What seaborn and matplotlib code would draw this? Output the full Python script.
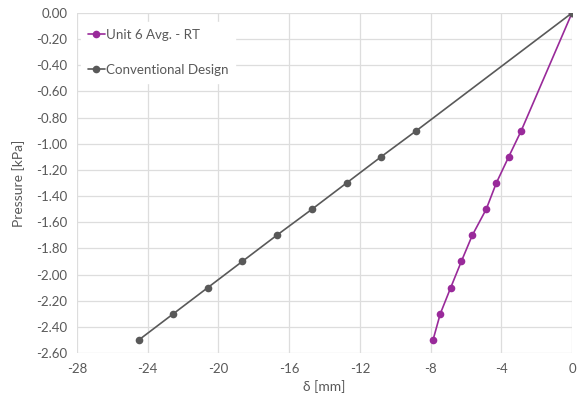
import numpy as np
import pandas as pd
import matplotlib
matplotlib.use("Agg")
import matplotlib.pyplot as plt
import seaborn as sns

# Pressure steps [kPa]
pressure = [0.0, -0.9, -1.1, -1.3, -1.5, -1.7, -1.9, -2.1, -2.3, -2.5]
# Deflection [mm] per series
unit6_defl = [0.0, -2.87, -3.58, -4.28, -4.85, -5.64, -6.26, -6.86, -7.45, -7.86]
conv_defl = [0.0, -8.8, -10.8, -12.75, -14.7, -16.7, -18.65, -20.6, -22.55, -24.5]

series_names = ["Unit 6 Avg. - RT", "Conventional Design"]
colors = ["#992A9A", "#595959"]

x_ticks = [-28, -24, -20, -16, -12, -8, -4, 0]
y_ticks = [0.0, -0.2, -0.4, -0.6, -0.8, -1.0, -1.2, -1.4, -1.6, -1.8, -2.0, -2.2, -2.4, -2.6]

df = pd.concat([
    pd.DataFrame({"delta": unit6_defl, "pressure": pressure, "series": series_names[0]}),
    pd.DataFrame({"delta": conv_defl, "pressure": pressure, "series": series_names[1]}),
])

sns.set_theme(style="white")
plt.rcParams["font.family"] = ["Lato", "DejaVu Sans"]

fig = plt.figure(figsize=(5.81, 4.01), dpi=100)
ax = fig.add_axes([0.1325, 0.1197, 0.852, 0.848])

sns.lineplot(data=df, x="delta", y="pressure", hue="series", hue_order=series_names,
             palette=colors, marker="o", markersize=5.5, markeredgewidth=0,
             linewidth=1.2, sort=False, estimator=None, ax=ax, zorder=3)

ax.set_xlim(-28, 0)
ax.set_ylim(-2.6, 0)
ax.set_xticks(x_ticks)
ax.set_xticklabels([str(t) for t in x_ticks])
ax.set_yticks(y_ticks)
ax.set_yticklabels([f"{t:.2f}" for t in y_ticks])
ax.grid(True, color="#DDDDDD", linewidth=0.9, zorder=0)
ax.set_axisbelow(True)
for s in ax.spines.values():
    s.set_visible(False)
ax.tick_params(axis="both", length=0, labelsize=9.5, colors="#595959", pad=7)

ax.set_xlabel("δ [mm]", fontsize=10, color="#595959", labelpad=4)
ax.set_ylabel("Pressure [kPa]", fontsize=10, color="#595959", labelpad=8)

leg = ax.legend(loc="upper left", bbox_to_anchor=(0.0, 0.985), frameon=True,
                fontsize=9.6, handlelength=1.3, handletextpad=0.1,
                labelspacing=1.75, borderpad=0.5, borderaxespad=0.3)
leg.get_frame().set_facecolor("white")
leg.get_frame().set_edgecolor("white")
leg.get_frame().set_alpha(1.0)
leg.get_frame().set_boxstyle("Square", pad=0.0)
for t in leg.get_texts():
    t.set_color("#595959")

fig.savefig("out.png", dpi=100)
